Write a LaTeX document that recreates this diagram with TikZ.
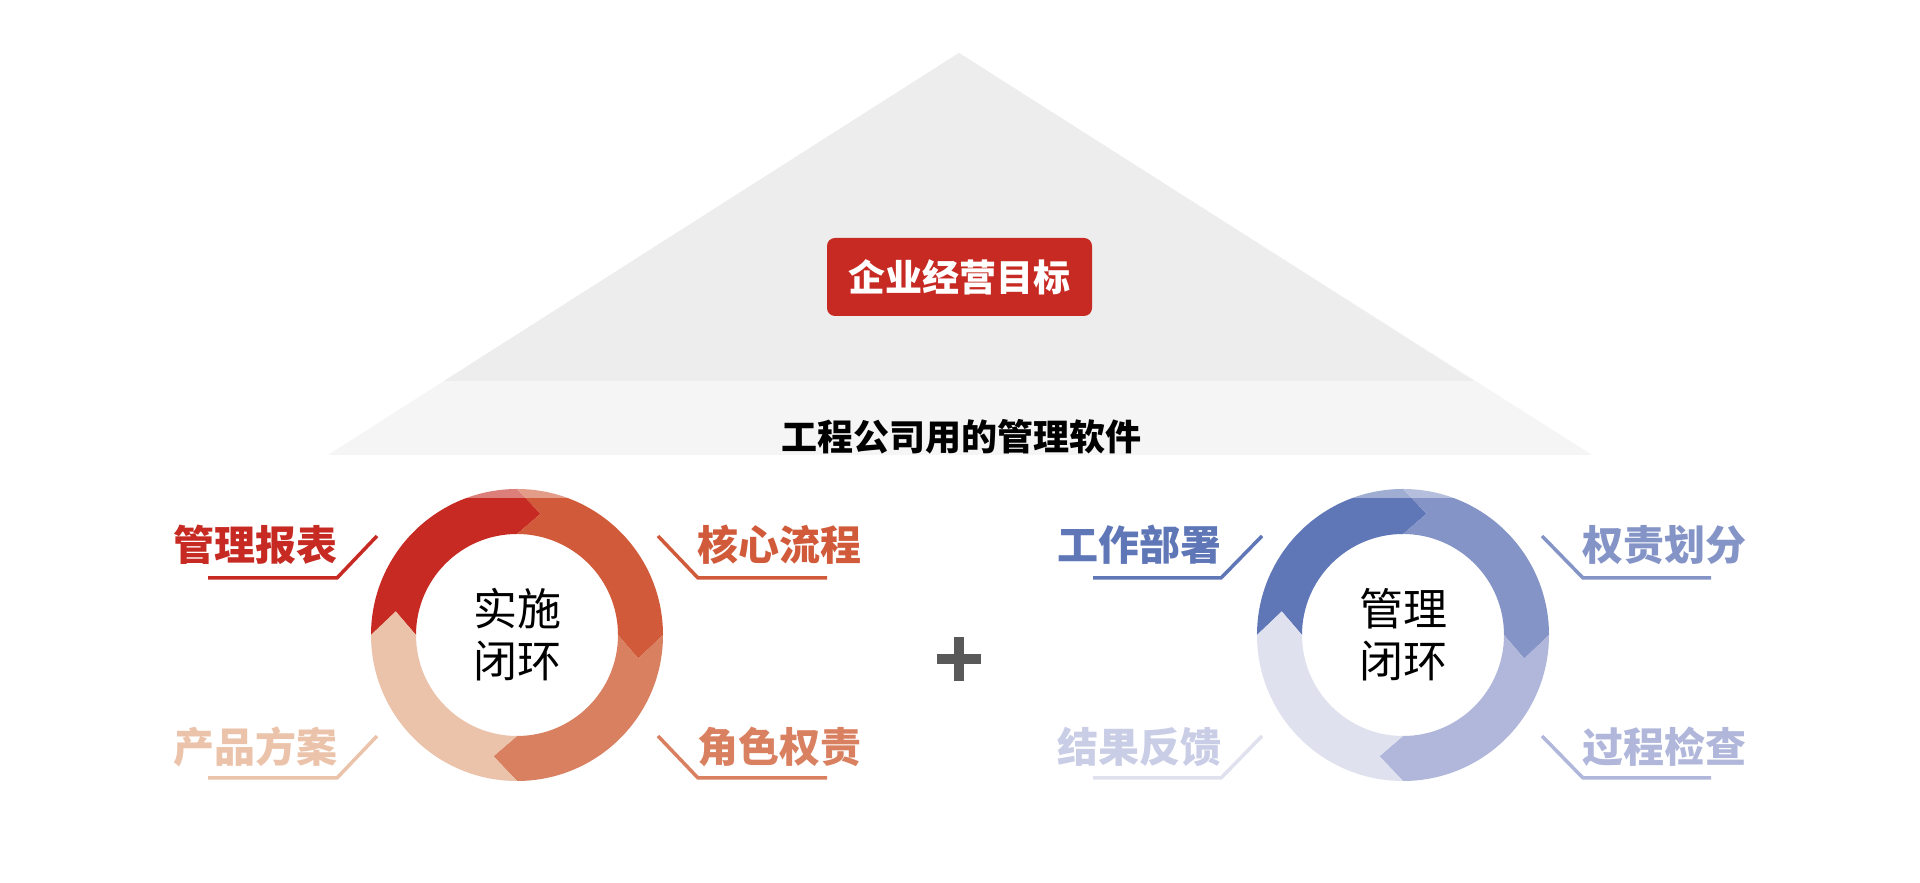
\documentclass[tikz,border=0pt]{standalone}
\usepackage{fontspec}
\newfontfamily\cjk{Noto Sans CJK SC}
\usetikzlibrary{positioning}
\definecolor{rA}{HTML}{C62A22}
\definecolor{rB}{HTML}{D05A3A}
\definecolor{rC}{HTML}{D98060}
\definecolor{rD}{HTML}{EBC3AA}
\definecolor{bA}{HTML}{5F77B7}
\definecolor{bB}{HTML}{8594C6}
\definecolor{bC}{HTML}{B0B7DB}
\definecolor{bD}{HTML}{DFE1EF}
\definecolor{bDt}{HTML}{C9CDE6}
\tikzset{
  tag/.style={font=\cjk\bfseries\fontsize{41}{41}\selectfont, inner sep=0pt},
  mid/.style={font=\cjk\fontsize{44}{52}\selectfont, align=center, inner sep=0pt},
  under/.style={line width=3.5pt},
}
% one ring: centre, then four colours
\newcommand\loopring[5]{%
  \foreach \s/\col in {180/#2,90/#3,0/#4,-90/#5}{%
    \pgfmathsetmacro\e{\s-90}
    \fill[\col] ([shift={(\s:146pt)}]#1) arc[start angle=\s,end angle=\e,radius=146pt]
      -- ([shift={(\e-11:123.5pt)}]#1) -- ([shift={(\e:101pt)}]#1)
      arc[start angle=\e,end angle=\s,radius=101pt]
      -- ([shift={(\s-11:123.5pt)}]#1) -- cycle;
  }}
\begin{document}
\begin{tikzpicture}[x=1pt,y=1pt]
\useasboundingbox (0,0) rectangle (1920,883);
\fill[white] (0,0) rectangle (1920,883);

% pyramid
\coordinate (apex) at (959,830);
\fill[black!4] (apex) -- (328,428) -- (1592,428) -- cycle;
\fill[black!7] (apex) -- (444,502) -- (1474,502) -- cycle;
\node[fill=rA, rounded corners=8pt, minimum width=265pt, minimum height=78pt,
  text=white, font=\cjk\bfseries\fontsize{37}{37}\selectfont] (goal) at (959.5,606) {企业经营目标};
\node[font=\cjk\bfseries\fontsize{36}{36}\selectfont, inner sep=0pt] (soft) at (961,446) {工程公司用的管理软件};

% rings
\coordinate (impl) at (517,248);
\coordinate (mgmt) at (1403,248);
\loopring{impl}{rA}{rB}{rC}{rD}
\loopring{mgmt}{bA}{bB}{bC}{bD}
\fill[white, opacity=.4] (360,385) rectangle (1560,394);
\node[mid] (implT) at (impl) {实施\\闭环};
\node[mid] (mgmtT) at (mgmt) {管理\\闭环};

% plus
\draw[line width=10pt, black!65] (937,224) -- (981,224) (959,202) -- (959,246);

% left tags
\node[tag, text=rA] (t1) at (255,338) {管理报表};
\node[tag, text=rB] (t2) at (779.5,338) {核心流程};
\node[tag, text=rC] (t3) at (779.5,136) {角色权责};
\node[tag, text=rD] (t4) at (255,136) {产品方案};
\draw[under, rA] (208,305) -- (337,305) -- (377,347);
\draw[under, rB] (827,305) -- (698,305) -- (658,347);
\draw[under, rC] (827,105) -- (698,105) -- (658,147);
\draw[under, rD] (208,105) -- (337,105) -- (377,147);

% right tags
\node[tag, text=bA] (t5) at (1139.5,338) {工作部署};
\node[tag, text=bB] (t6) at (1664.5,338) {权责划分};
\node[tag, text=bC] (t7) at (1664.5,136) {过程检查};
\node[tag, text=bDt] (t8) at (1139.5,136) {结果反馈};
\draw[under, bA] (1093,305) -- (1221,305) -- (1262,347);
\draw[under, bB] (1711,305) -- (1583,305) -- (1542,347);
\draw[under, bC] (1711,105) -- (1583,105) -- (1542,147);
\draw[under, bD] (1093,105) -- (1221,105) -- (1262,147);
\end{tikzpicture}
\end{document}
